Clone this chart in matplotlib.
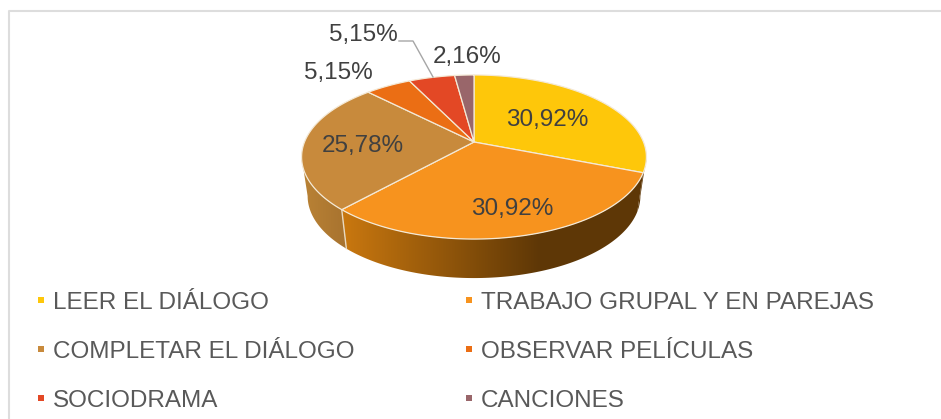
import numpy as np
import matplotlib
matplotlib.use("Agg")
import matplotlib.pyplot as plt
from matplotlib.patches import Polygon

plt.rcParams["font.family"] = ["Liberation Sans", "DejaVu Sans"]

# data
categorias = ["LEER EL DIÁLOGO", "TRABAJO GRUPAL Y EN PAREJAS", "COMPLETAR EL DIÁLOGO",
              "OBSERVAR PELÍCULAS", "SOCIODRAMA", "CANCIONES"]
valores = [30.92, 30.92, 25.78, 5.15, 5.15, 2.16]
etiquetas = ["30,92%", "30,92%", "25,78%", "5,15%", "5,15%", "2,16%"]
colores = ["#FEC70A", "#F7931E", "#C88A3C", "#EB6E14", "#E34825", "#99666A"]

W, H = 941, 419
fig = plt.figure(figsize=(W / 100, H / 100), dpi=100)
ax = fig.add_axes([0, 0, 1, 1])
ax.set_xlim(0, W)
ax.set_ylim(H, 0)
ax.axis("off")

# pie seen in perspective, angle measured clockwise from the top
cx, cy, a, k, p = 474, 142, 169.5, 79.3, 0.183
grosor = 39
esc_base = 0.965


def proy(ang, dy=0, esc=1.0):
    X, Y = np.sin(ang), np.cos(ang)
    d = 1 + p * Y
    return cx + esc * a * X / d, cy - k * Y / d + dy


total = sum(valores)
bordes = 2 * np.pi * np.cumsum([0] + valores) / total


def gradiente(verts, x0, x1, c0, c1):
    # horizontal gradient, flat past x0 and x1, clipped to the wall polygon
    c0 = np.array(matplotlib.colors.to_rgb(c0))
    c1 = np.array(matplotlib.colors.to_rgb(c1))
    t = np.clip((np.arange(W) + 0.5 - x0) / (x1 - x0), 0, 1)[None, :, None]
    img = c0[None, None, :] * (1 - t) + c1[None, None, :] * t
    im = ax.imshow(img, extent=[0, W, 300, 60], aspect="auto", zorder=1)
    pol = Polygon(verts, closed=True, transform=ax.transData, fc="none", ec="none")
    ax.add_patch(pol)
    im.set_clip_path(pol)
    ax.set_xlim(0, W)
    ax.set_ylim(H, 0)


def lado(a0, a1):
    t = np.linspace(a0, a1, 120)
    arriba = np.column_stack(proy(t))
    abajo = np.column_stack(proy(t[::-1], dy=grosor, esc=esc_base))
    return np.vstack([arriba, abajo])


# outer wall, only the front part shows
lim_der, lim_izq = np.arccos(-p), 2 * np.pi - np.arccos(-p)
gradiente(lado(lim_der, bordes[1]), 345, 540, "#C8770F", "#5E3706")
gradiente(lado(bordes[1], bordes[2]), 345, 540, "#C8770F", "#5E3706")
gradiente(lado(bordes[2], lim_izq), 304, 345, "#B98235", "#A8732F")
x0, y0 = proy(bordes[2])
x1, y1 = proy(bordes[2], dy=grosor, esc=esc_base)
ax.plot([x0, x1], [y0, y1], color="#E8D9C0", lw=1, zorder=2)

# top face
for v0, v1, c in zip(bordes[:-1], bordes[1:], colores):
    t = np.linspace(v0, v1, 150)
    x, y = proy(t)
    ax.fill(np.r_[cx, x], np.r_[cy, y], fc=c, ec="#F4E9D6", lw=0.9, zorder=3, joinstyle="round")

# value labels
pos_etq = [(547, 120), (512, 209), (363, 146), (338, 73), (363, 35), (467, 57)]
for (x, y), e in zip(pos_etq, etiquetas):
    ax.text(x, y, e, fontsize=17.5, color="#404040", ha="center", va="center", zorder=5)

# leader line of the sociodrama label
ax.plot([399, 413, 433], [41, 41, 77], color="#A6A6A6", lw=1, zorder=4)

# legend
col_x = [41, 469]
fila_y = [300, 349, 398]
for i, (nom, c) in enumerate(zip(categorias, colores)):
    x, y = col_x[i % 2], fila_y[i // 2]
    ax.scatter([x], [y], marker="s", s=22, color=c, linewidths=0, zorder=5)
    ax.text(x + 12, y + 3, nom, fontsize=17.5, color="#595959", ha="left", va="center", zorder=5)

# chart frame, left and top only
ax.plot([9, 9, W], [H, 11, 11], color="#DDDDDD", lw=1.5, zorder=0)

fig.savefig("out.png", dpi=100, facecolor="white")
